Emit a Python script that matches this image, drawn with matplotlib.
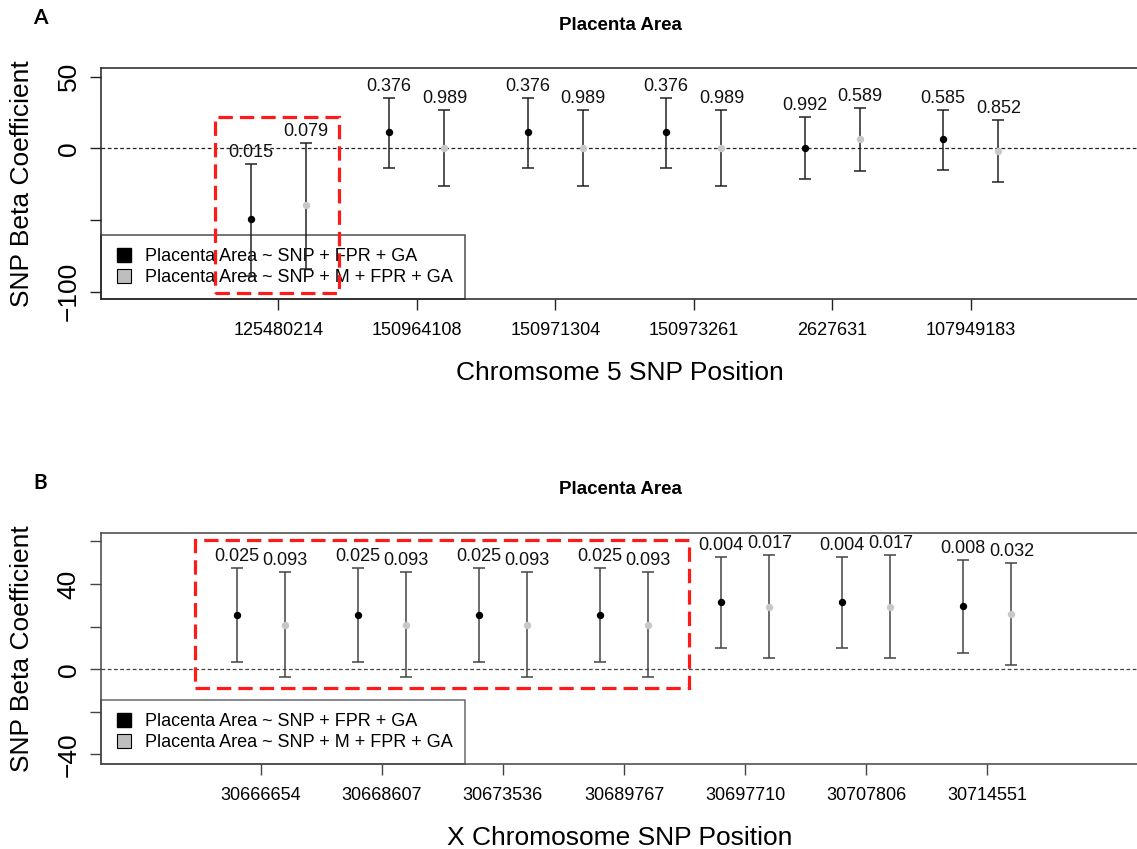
import numpy as np
import matplotlib
matplotlib.use("Agg")
import matplotlib.pyplot as plt
from matplotlib.lines import Line2D
from matplotlib.patches import Rectangle

plt.rcParams['font.family'] = ['Liberation Sans', 'DejaVu Sans']

# panel A: chromosome 5
snps_a = ['125480214', '150964108', '150971304', '150973261', '2627631', '107949183']
beta1_a = [-49.5, 11.6, 11.6, 11.6, 0.4, 6.5]
lo1_a = [-89.0, -13.5, -13.5, -13.5, -21.6, -15.1]
hi1_a = [-11.2, 34.9, 34.9, 34.9, 22.0, 26.7]
p1_a = ['0.015', '0.376', '0.376', '0.376', '0.992', '0.585']
beta2_a = [-39.5, 0.4, 0.4, 0.4, 6.5, -1.6]
lo2_a = [-84.0, -26.3, -26.3, -26.3, -15.8, -23.7]
hi2_a = [3.9, 26.7, 26.7, 26.7, 28.3, 19.7]
p2_a = ['0.079', '0.989', '0.989', '0.989', '0.589', '0.852']

# panel B: X chromosome
snps_b = ['30666654', '30668607', '30673536', '30689767', '30697710', '30707806', '30714551']
beta1_b = [25.5, 25.5, 25.5, 25.5, 31.7, 31.7, 29.9]
lo1_b = [3.3, 3.3, 3.3, 3.3, 10.1, 10.1, 7.5]
hi1_b = [47.4, 47.4, 47.4, 47.4, 52.9, 52.9, 51.3]
p1_b = ['0.025', '0.025', '0.025', '0.025', '0.004', '0.004', '0.008']
beta2_b = [20.8, 20.8, 20.8, 20.8, 29.4, 29.4, 26.0]
lo2_b = [-3.5, -3.5, -3.5, -3.5, 5.2, 5.2, 2.0]
hi2_b = [45.8, 45.8, 45.8, 45.8, 53.7, 53.7, 50.0]
p2_b = ['0.093', '0.093', '0.093', '0.093', '0.017', '0.017', '0.032']

legend_labels = ['Placenta Area ~ SNP + FPR + GA', 'Placenta Area ~ SNP + M + FPR + GA']

W, H = 1137, 849
fig = plt.figure(figsize=(W / 100, H / 100), dpi=100)


def panel(rect_px, snps, b1, lo1, hi1, p1, b2, lo2, hi2, p2,
          ylim, yticks, yticklabels, xlabel, letter, box, linecol):
    left, top, right, bottom = rect_px
    ax = fig.add_axes([left / W, 1 - bottom / H, (right - left) / W, (bottom - top) / H])
    n = len(snps)
    x = np.arange(1, n + 1)
    b1, lo1, hi1 = map(np.array, (b1, lo1, hi1))
    b2, lo2, hi2 = map(np.array, (b2, lo2, hi2))

    ax.axhline(0, color=linecol, lw=0.9, ls=(0, (3.0, 2.0)), zorder=1)
    ax.errorbar(x - 0.2, b1, yerr=[b1 - lo1, hi1 - b1], fmt='o', color='black',
                ecolor=linecol, elinewidth=1.1, capsize=4, capthick=1.1, markersize=4.3, zorder=3)
    ax.errorbar(x + 0.2, b2, yerr=[b2 - lo2, hi2 - b2], fmt='o', color='#c8c8c8',
                ecolor=linecol, elinewidth=1.1, capsize=4, capthick=1.1, markersize=4.3, zorder=3)
    for xi, h, p in zip(x - 0.2, hi1, p1):
        ax.annotate(p, (xi, h), xytext=(0, 8.3), textcoords='offset points',
                    ha='center', va='center', fontsize=13, color='#111111')
    for xi, h, p in zip(x + 0.2, hi2, p2):
        ax.annotate(p, (xi, h), xytext=(0, 8.3), textcoords='offset points',
                    ha='center', va='center', fontsize=13, color='#111111')

    ax.set_xlim(-0.04 * (n + 1), (n + 1) * 1.04)
    ax.set_ylim(*ylim)
    ax.set_xticks(x)
    ax.set_xticklabels(snps, fontsize=13)
    ax.set_yticks(yticks)
    ax.set_yticklabels(yticklabels, fontsize=19, rotation=90, va='center')
    ax.tick_params(axis='both', length=8, width=1, color=linecol, direction='out')
    ax.tick_params(axis='x', pad=8.5)
    ax.tick_params(axis='y', pad=6.5)
    for s in ax.spines.values():
        s.set_color(linecol)
        s.set_linewidth(1.1)

    handles = [Line2D([], [], ls='none', marker='s', markersize=10, markerfacecolor='black',
                      markeredgecolor='black'),
               Line2D([], [], ls='none', marker='s', markersize=10, markerfacecolor='#bebebe',
                      markeredgecolor='black', markeredgewidth=0.8)]
    leg = ax.legend(handles, legend_labels, loc='lower left', bbox_to_anchor=(0, 0),
                    borderaxespad=0, fontsize=13, frameon=True, fancybox=False,
                    edgecolor=linecol, borderpad=0.72, labelspacing=0.22,
                    handlelength=1.1, handletextpad=0.6)
    leg.get_frame().set_facecolor('none')
    leg.get_frame().set_linewidth(1.1)
    leg.set_zorder(2)

    # red highlight box
    bx0, bx1, by0, by1 = box
    ax.add_patch(Rectangle((bx0, by0), bx1 - bx0, by1 - by0, fill=False, edgecolor='#ff1a1a',
                           lw=2.3, ls=(0, (4.5, 2.2)), clip_on=False, zorder=5))

    cx = (left + W) / 2 + 1
    fig.text(cx / W, 1 - (top - 43) / H, 'Placenta Area', ha='center', va='center',
             fontsize=13.5, fontweight='bold')
    fig.text(cx / W, 1 - (bottom + 74) / H, xlabel, ha='center', va='center', fontsize=19)
    fig.text(22 / W, 1 - ((top + bottom) / 2) / H, 'SNP Beta Coefficient', ha='center',
             va='center', rotation=90, fontsize=19)
    fig.text(40 / W, 1 - (top - 50) / H, letter, ha='center', va='center', fontsize=15,
             fontweight='bold', family=['Lato', 'DejaVu Sans'])
    return ax


panel((101, 68.3, 1148, 299.3), snps_a, beta1_a, lo1_a, hi1_a, p1_a,
      beta2_a, lo2_a, hi2_a, p2_a,
      (-105.3, 55.8), [-100, -50, 0, 50], ['\u2212100', '', '0', '50'],
      'Chromsome 5 SNP Position', 'A', (0.54, 1.44, -101.1, 21.6), '#222222')

panel((101, 532.7, 1147, 764.3), snps_b, beta1_b, lo1_b, hi1_b, p1_b,
      beta2_b, lo2_b, hi2_b, p2_b,
      (-44.6, 64.1), [-40, -20, 0, 20, 40, 60], ['\u221240', '', '0', '', '40', ''],
      'X Chromosome SNP Position', 'B', (0.455, 4.54, -8.9, 60.7), '#444444')

fig.savefig('out.png', dpi=100)
